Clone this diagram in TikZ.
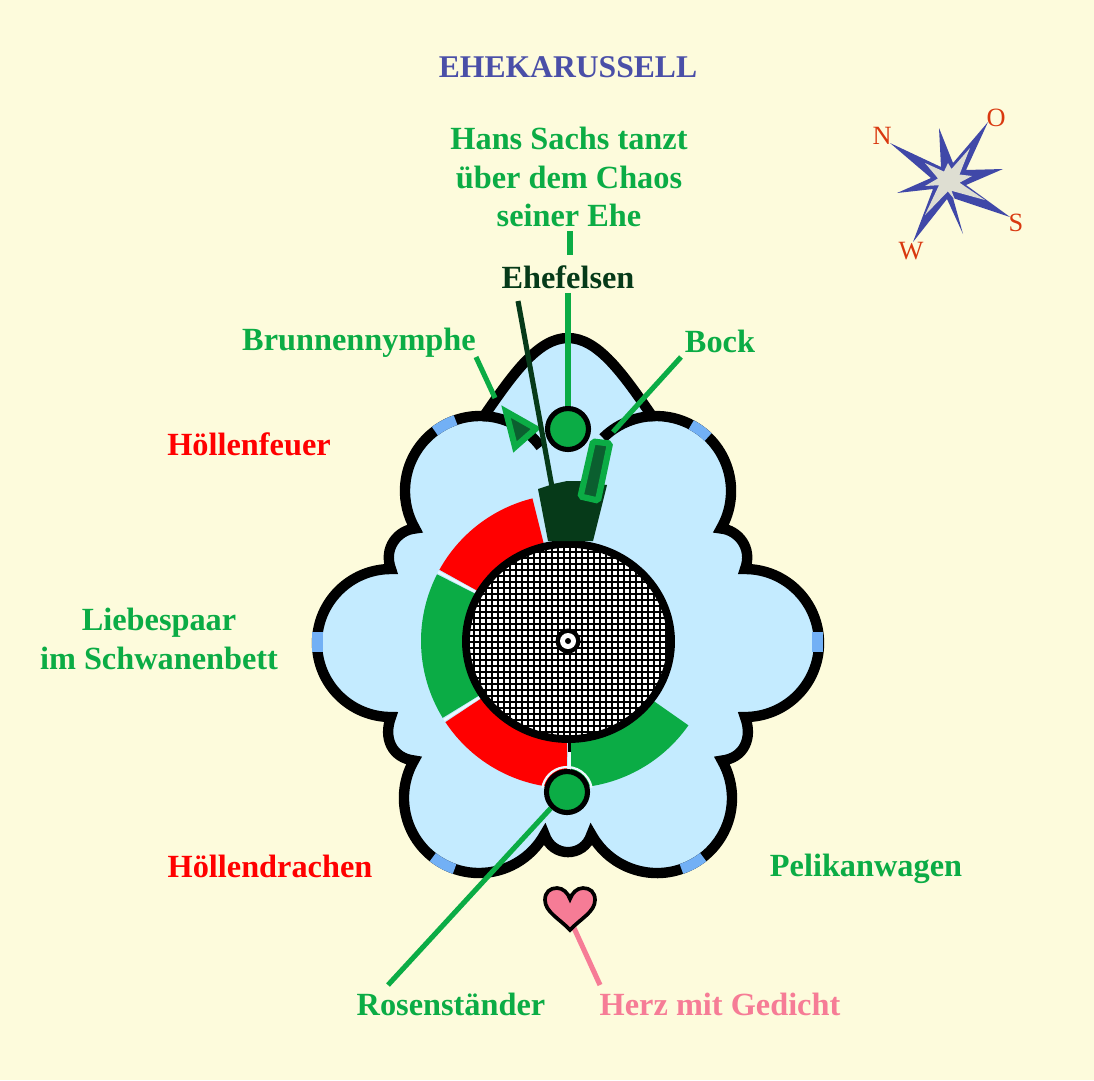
\documentclass[tikz,border=0pt]{standalone}
\usepackage{fontspec}
\setmainfont{Liberation Serif}
\usepackage{xcolor}
\usepackage{tikz}
\definecolor{papier}{HTML}{FDFBDC}
\definecolor{wasser}{HTML}{C4EBFF}
\definecolor{luecke}{HTML}{72B0F5}
\definecolor{gruen}{HTML}{0BAC45}
\definecolor{tiefgruen}{HTML}{063A19}
\definecolor{mittelgruen}{HTML}{0B5F2F}
\definecolor{rosa}{HTML}{F67C96}
\definecolor{tinte}{HTML}{4A4FA8}
\definecolor{kompass}{HTML}{4048A8}
\definecolor{stern}{HTML}{DEDED2}
\definecolor{rost}{HTML}{D9380F}
\tikzset{
  x=0.02cm,y=0.02cm,
  lbl/.style={font=\fontsize{18.4}{21.8}\selectfont\bfseries,inner sep=0pt,align=center},
  rand/.style={draw=black,line width=5.9pt,miter limit=20},
  gap/.style={draw=luecke,line width=5.9pt},
  fuss/.style={line width=2.9pt,draw=gruen},
  figur/.style={draw=gruen,fill=mittelgruen,line width=3.5pt},
  saeule/.style={circle,draw=black,fill=gruen,line width=2.9pt,minimum size=0.82cm,inner sep=0pt},
  naht/.style={draw=white!70!wasser,line width=1.3pt},
  wind/.style={font=\fontsize{15}{17}\selectfont,text=rost,inner sep=0pt}
}
\newcommand{\sektor}[3]{\fill[#1] ([shift={(#2:100)}]mitte) arc[start angle=#2,end angle=#3,radius=100] -- ([shift={(#3:147)}]mitte) arc[start angle=#3,end angle=#2,radius=147] -- cycle;}
\newcommand{\bogen}[3]{\draw[gap] ([shift={(#2:75)}]#1) arc[start angle=#2,end angle=#3,radius=75];}
\begin{document}
\begin{tikzpicture}
\path[fill=papier,use as bounding box] (0,0) rectangle (1094,-1080);
\coordinate (mitte) at (568,-641);
\coordinate (obenlinks) at (480,-491);
\coordinate (obenrechts) at (656,-491);
\coordinate (untenlinks) at (479,-798);
\coordinate (untenrechts) at (657,-798);
\path[fill=wasser,rand] (568,-338) .. controls (538,-338) and (513,-374) .. (483.9,-416.1)
  arc[start angle=87,end angle=210,radius=75] .. controls (398,-530) and (383,-548) .. (391,-569)
  arc[start angle=90,end angle=270,radius=74] .. controls (383,-738) and (392,-758) .. (414,-760.5)
  arc[start angle=150,end angle=331,radius=75] .. controls (552,-858) and (584,-858) .. (591.4,-834.4)
  arc[start angle=209,end angle=390,radius=75] .. controls (744,-758) and (753,-738) .. (745,-717)
  arc[start angle=-90,end angle=90,radius=74] .. controls (753,-548) and (738,-530) .. (721,-528.5)
  arc[start angle=-30,end angle=93,radius=75] .. controls (623,-374) and (598,-338) .. cycle;
\draw[rand] (483.9,-416.1) arc[start angle=87,end angle=36,radius=75];
\draw[rand] (652.1,-416.1) arc[start angle=93,end angle=135,radius=75];
\draw[gap] (317.5,-632) -- (317.5,-652); \draw[gap] (817.5,-632) -- (817.5,-652);
\bogen{obenlinks}{109}{127}
\bogen{obenrechts}{62}{46}
\bogen{untenlinks}{232}{251}
\bogen{untenrechts}{289}{308}
\sektor{red}{104}{151}
\sektor{gruen}{153}{211.5}
\sektor{red}{213.5}{269.5}
\sektor{gruen}{271}{325}
\draw[naht] ([shift={(152:105)}]mitte) -- ([shift={(152:147)}]mitte);
\draw[naht] ([shift={(212.5:105)}]mitte) -- ([shift={(212.5:147)}]mitte);
\draw[naht] (569.5,-750) -- (569.5,-770);
\draw[line width=1.6pt] (569.5,-741) -- (569.5,-752);
\fill[white] (568.5,-641.5) ellipse[x radius=103,y radius=98];
\begin{scope}
\clip (568.5,-641.5) ellipse[x radius=103,y radius=98];
\draw[line width=1.47pt] (462,-750) grid[step=6] (678,-534);
\end{scope}
\draw[line width=4.4pt] (568.5,-641.5) ellipse[x radius=102.6,y radius=97.6];
\fill[tiefgruen] (538,-489) -- (548,-541) -- (593,-541) -- (607,-485) -- (580,-481) -- (567,-481) -- (553,-484) -- cycle;
\fill (mitte) circle[radius=12.5];
\fill[white] (mitte) circle[radius=8];
\fill (mitte) circle[radius=3];
\draw[naht] (591.6,-787.7) arc[start angle=10,end angle=170,radius=25];
\node[saeule] (fels) at (568,-429) {};
\node[saeule] (rosen) at (567,-792) {};
\draw[figur] (506,-411.5) -- (536,-428.5) -- (515,-447) -- cycle;
\draw[figur,rounded corners=1pt] (593,-441.5) -- (610,-443.5) -- (598,-500.5) -- (580.5,-496.5) -- cycle;

\node[lbl,text=tinte,font=\fontsize{18}{21.8}\selectfont\bfseries] (titel) at (568,-67) {EHEKARUSSELL};
\node[lbl,text=gruen] (hans) at (569,-177) {Hans Sachs tanzt\\über dem Chaos\\seiner Ehe};
\node[lbl,text=tiefgruen] (ehefelsen) at (568,-277) {Ehefelsen};
\node[lbl,text=gruen] (nymphe) at (359,-343) {Brunnennymphe};
\node[lbl,text=gruen] (bock) at (720,-341) {Bock};
\node[lbl,text=red] (feuer) at (249,-444) {Höllenfeuer};
\node[lbl,text=gruen] (paar) at (159,-639) {Liebespaar\\im Schwanenbett};
\node[lbl,text=red] (drachen) at (270,-866) {Höllendrachen};
\node[lbl,text=gruen] (pelikan) at (866,-869) {Pelikanwagen};
\node[lbl,text=gruen] (staender) at (451,-1004) {Rosenständer};
\node[lbl,text=rosa] (gedicht) at (720,-1004) {Herz mit Gedicht};

\coordinate (nymphefuss) at (495,-398);
\coordinate (bockfuss) at (613,-432);
\coordinate (felskopf) at (552,-487);
\coordinate (staenderfuss) at (388,-985);
\coordinate (herzspitze) at (574,-928);
\draw[fuss] (hans.south) ++(1,-4) -- (570,-255);
\draw[fuss] (ehefelsen.south) ++(0,-4) -- (fels.north);
\draw[fuss] (476,-357) -- (nymphefuss);
\draw[fuss] (681,-357) -- (bockfuss);
\draw[fuss,draw=tiefgruen] (518,-301) -- (felskopf);
\draw[fuss] (rosen.225) -- (staenderfuss);
\draw[fuss,draw=rosa] (herzspitze) -- (600,-985);
\draw[fill=rosa,line width=2.1pt,miter limit=10] (570,-930) .. controls (560,-919) and (545,-912) .. (545,-900) .. controls (545,-892) and (550,-888) .. (557,-888) .. controls (563,-888) and (568,-893) .. (570,-899) .. controls (572,-893) and (577,-888) .. (583,-888) .. controls (590,-888) and (595,-892) .. (595,-900) .. controls (595,-912) and (580,-919) .. cycle;

\fill[kompass] (939,-128) -- (953,-163) -- (988,-122) -- (966,-170) -- (1003,-169) -- (966,-185) -- (1010,-217) -- (953,-198) -- (963,-234) -- (947,-199) -- (913,-242) -- (933,-189) -- (897,-193) -- (931,-178) -- (890,-143) -- (941,-167) -- cycle;
\fill[stern] (948,-163) -- (951.5,-169) -- (970,-148) -- (959.5,-174.5) -- (972,-176) -- (959.5,-182.7) -- (985,-200) -- (951.5,-190.8) -- (955,-200) -- (947.8,-191.4) -- (925,-215) -- (939,-185.2) -- (925,-186) -- (938,-178.4) -- (925,-163) -- (944,-171.6) -- cycle;
\node[wind] (nord) at (882,-136) {N};
\node[wind] (ost) at (996,-118) {O};
\node[wind] (sued) at (1016,-223) {S};
\node[wind] (west) at (911,-251) {W};
\end{tikzpicture}
\end{document}
